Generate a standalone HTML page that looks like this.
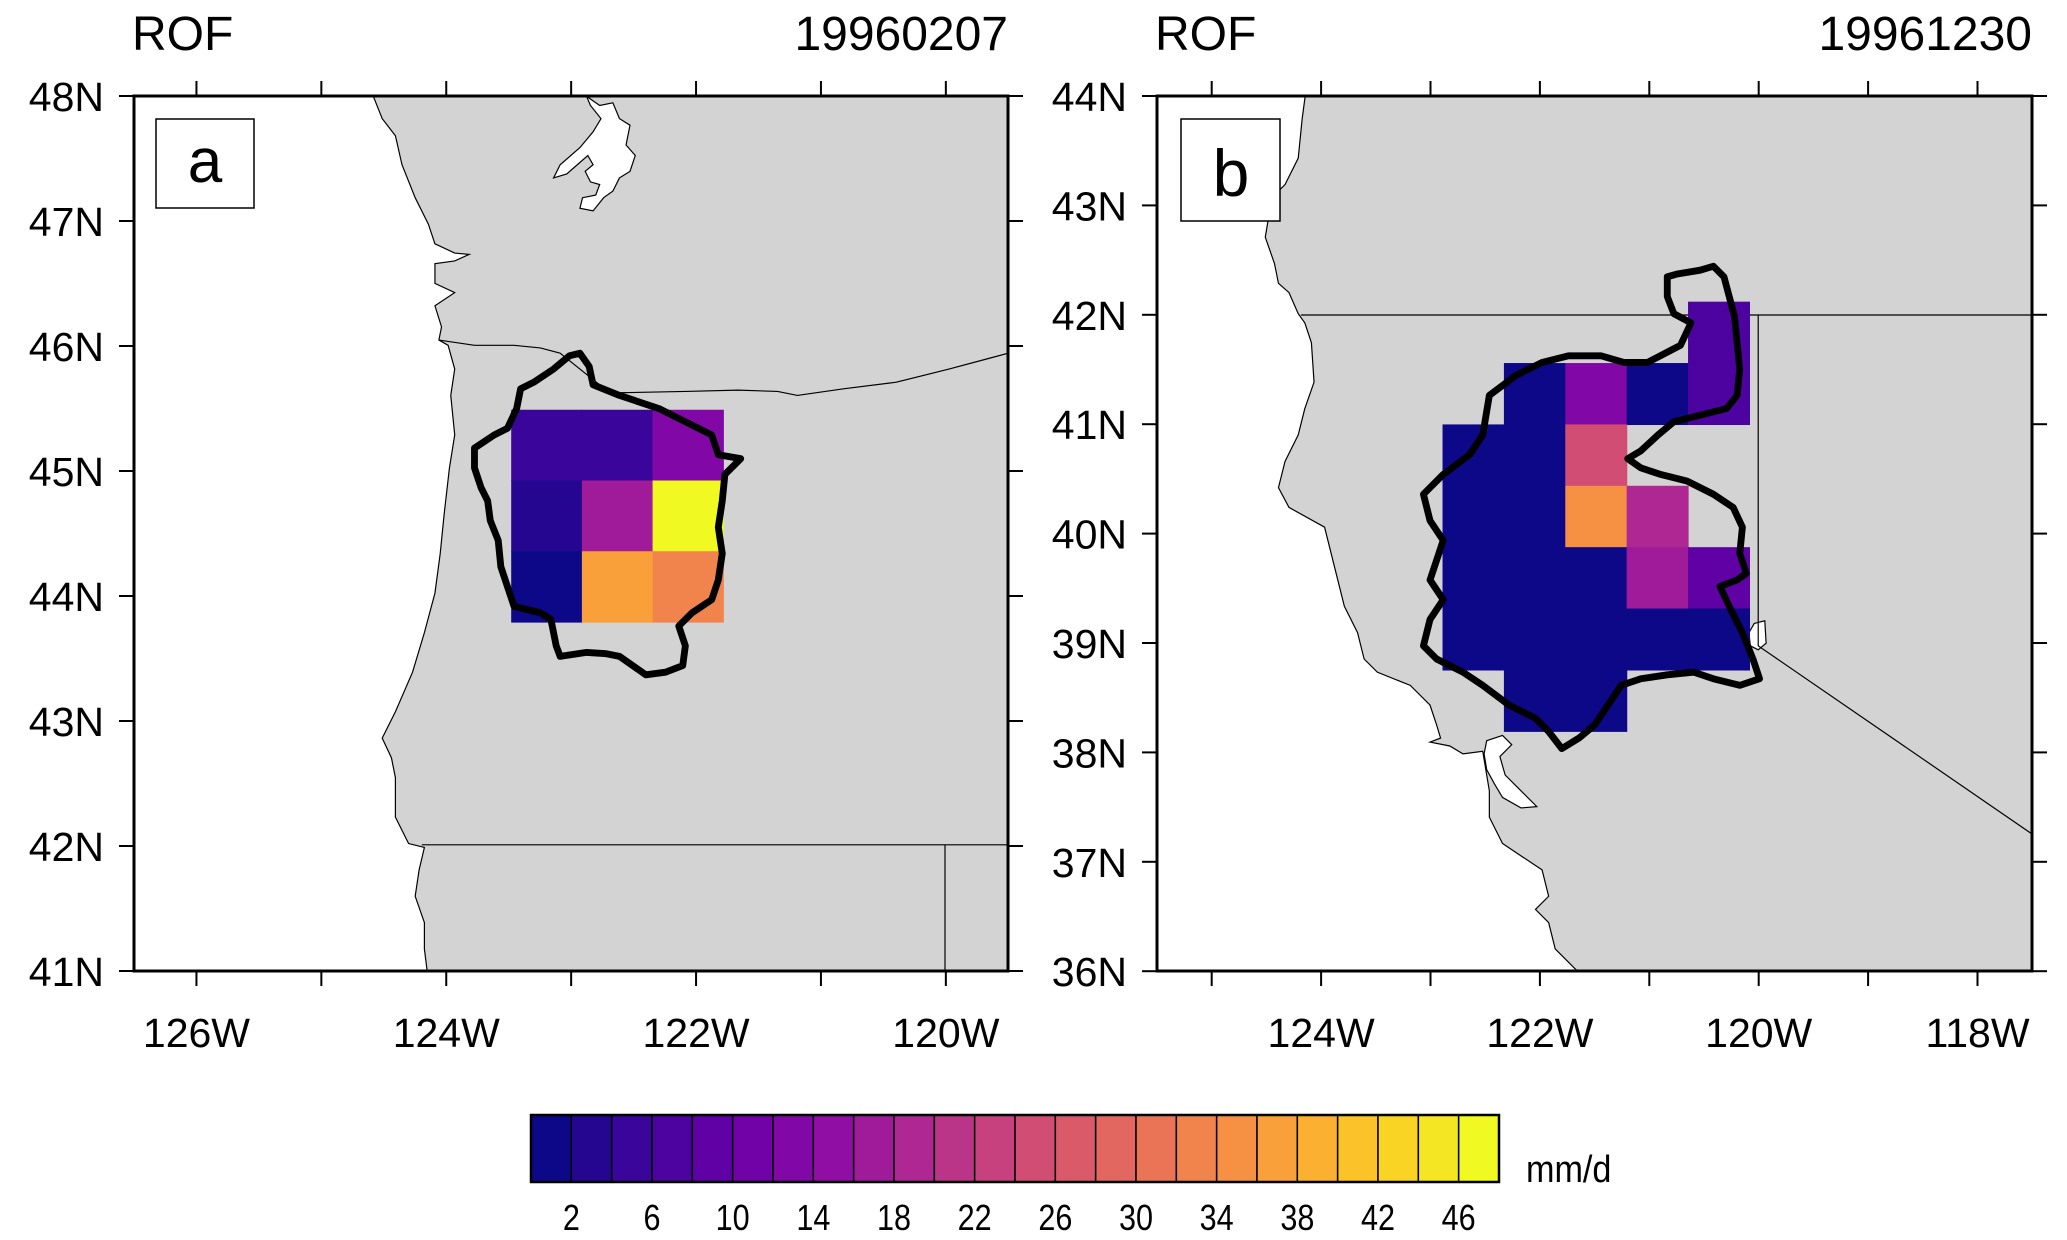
<!DOCTYPE html>
<html><head><meta charset="utf-8">
<style>
html,body{margin:0;padding:0;background:#fff;}
svg{display:block;font-family:"Liberation Sans",Arial,sans-serif;}
</style></head>
<body>
<svg id="fig" width="2067" height="1240" viewBox="0 0 2067 1240" xmlns="http://www.w3.org/2000/svg">
  <defs>
    <clipPath id="clipA"><rect x="134" y="96" width="874" height="875"/></clipPath>
    <clipPath id="clipB"><rect x="1157" y="96" width="875" height="875"/></clipPath>
  </defs>

  <!-- Panel A -->
  <g id="panelA">
    <rect x="134" y="96" width="874" height="875" fill="#fff"/>
    <g clip-path="url(#clipA)">
      <g transform="scale(1.318)">
        <path fill="#d3d3d3" stroke="#000" stroke-width="0.9"
          d="M278,60 L290,90 L300,103 L305,125 L315,150 L325,170 L330,185 L345,192 L356,193 L345,198 L330,200 L330,215 L345,222 L330,232 L335,248 L333,258 L340,262 L345,280 L342,300 L345,330 L341,355 L337,390 L334,420 L330,450 L322,480 L313,510 L300,540 L290,560 L297,575 L300,590 L300,620 L310,640 L322,643 L318,660 L315,680 L322,700 L322,720 L327,760 L780,760 L780,60 Z"/>
        <path fill="#fff" stroke="#000" stroke-width="0.9"
          d="M445,73 L455,80 L465,78 L470,90 L478,95 L475,110 L482,118 L478,130 L470,135 L465,145 L458,150 L450,160 L440,158 L442,150 L452,148 L455,140 L448,138 L444,130 L450,125 L446,118 L438,125 L430,132 L420,135 L425,125 L440,112 L450,100 L456,90 L448,80 Z"/>
        <polyline fill="none" stroke="#000" stroke-width="0.9"
          points="333,258 360,262 390,262 410,264 425,268 440,280 455,292 470,298 520,297 560,296 590,297 605,300 640,295 680,290 720,280 750,272 765,268"/>
        <polyline fill="none" stroke="#000" stroke-width="0.9" points="320,641 765,641"/>
        <polyline fill="none" stroke="#000" stroke-width="0.9" points="717,641 717,740"/>
      </g>
      <g id="cellsA"></g>
      <g transform="scale(1.318)">
        <path fill="none" stroke="#000" stroke-width="5.2" stroke-linejoin="round"
          d="M395,295 L405,290 L420,280 L432,270 L440,268 L447,278 L450,292 L470,300 L500,310 L520,320 L540,330 L545,345 L562,348 L550,360 L548,380 L545,400 L548,420 L545,440 L540,455 L525,465 L515,475 L520,490 L518,505 L505,510 L490,512 L480,505 L470,498 L460,496 L445,495 L425,498 L422,490 L418,470 L410,465 L390,460 L385,445 L380,430 L378,410 L372,395 L370,380 L365,370 L360,355 L360,340 L375,330 L385,325 L392,310 Z"/>
      </g>
    </g>
    <rect x="134" y="96" width="874" height="875" fill="none" stroke="#000" stroke-width="3"/>
    <g id="axesA"></g>
    <rect x="156" y="119" width="98" height="89" fill="#fff" stroke="#000" stroke-width="1.5"/>
    <text x="205" y="182" font-size="62" text-anchor="middle">a</text>
    <text x="132" y="50" font-size="48">ROF</text>
    <text x="1008" y="50" font-size="48" text-anchor="end">19960207</text>
  </g>

  <!-- Panel B -->
  <g id="panelB">
    <rect x="1157" y="96" width="875" height="875" fill="#fff"/>
    <g clip-path="url(#clipB)">
      <g transform="scale(1.318)">
        <path fill="#d3d3d3" stroke="#000" stroke-width="0.9"
          d="M992,60 L988,90 L985,120 L975,140 L965,150 L960,180 L967,200 L970,215 L978,222 L985,238 L990,245 L995,260 L997,290 L990,310 L985,330 L975,350 L970,370 L978,385 L1005,400 L1010,420 L1015,440 L1020,460 L1030,480 L1035,500 L1045,510 L1070,520 L1085,535 L1090,550 L1093,560 L1085,563 L1100,566 L1110,572 L1125,570 L1130,600 L1130,620 L1140,640 L1155,650 L1170,660 L1175,680 L1165,690 L1175,700 L1180,720 L1200,740 L1560,740 L1560,60 Z"/>
        <path fill="#fff" stroke="#000" stroke-width="0.9"
          d="M1128,562 L1140,558 L1147,565 L1138,574 L1142,588 L1152,598 L1166,612 L1154,613 L1140,605 L1134,595 L1128,584 L1126,572 Z"/>
        <path fill="#fff" stroke="#000" stroke-width="0.9"
          d="M1331,473 L1339,471 L1340,488 L1334,493 L1328,490 L1327,480 Z"/>
        <polyline fill="none" stroke="#000" stroke-width="0.9" points="987,239 1560,239"/>
        <polyline fill="none" stroke="#000" stroke-width="0.9" points="1334,239 1334,490 1545,635"/>
      </g>
      <g id="cellsB"></g>
      <g transform="scale(1.318)">
        <path fill="none" stroke="#000" stroke-width="5.2" stroke-linejoin="round"
          d="M1265,210 L1272,208 L1290,205 L1300,202 L1308,210 L1312,225 L1316,240 L1318,260 L1320,280 L1318,300 L1310,310 L1290,315 L1270,320 L1258,330 L1245,342 L1235,348 L1245,355 L1260,360 L1280,365 L1300,375 L1315,385 L1322,400 L1320,420 L1325,435 L1318,440 L1305,445 L1312,460 L1322,480 L1330,500 L1335,515 L1320,520 L1300,515 L1285,510 L1265,512 L1245,515 L1230,520 L1220,535 L1210,550 L1198,560 L1185,568 L1175,555 L1165,545 L1145,535 L1125,520 L1110,510 L1090,500 L1080,490 L1085,470 L1095,455 L1085,440 L1090,425 L1095,410 L1085,395 L1080,375 L1095,360 L1115,345 L1125,330 L1130,300 L1150,285 L1170,275 L1190,270 L1215,270 L1232,275 L1250,275 L1275,262 L1283,245 L1270,238 L1265,225 Z"/>
      </g>
    </g>
    <rect x="1157" y="96" width="875" height="875" fill="none" stroke="#000" stroke-width="3"/>
    <g id="axesB"></g>
    <rect x="1181" y="119" width="99" height="102" fill="#fff" stroke="#000" stroke-width="1.5"/>
    <text x="1231" y="196" font-size="66" text-anchor="middle">b</text>
    <text x="1155" y="50" font-size="48">ROF</text>
    <text x="2032" y="50" font-size="48" text-anchor="end">19961230</text>
  </g>

  <g id="colorbar"></g>
  <text x="1526" y="1182" font-size="38" transform="translate(1526 1182) scale(0.9 1) translate(-1526 -1182)">mm/d</text>
</svg>
<script>
// ---- data ----
const cbLevels = [2,6,10,14,18,22,26,30,34,38,42,46];
const cbMin = 0, cbMax = 48, cbStep = 2;
const plasmaAnchors = ["#0d0887","#41049d","#6a00a8","#8f0da4","#b12a90","#cc4778","#e16462","#f2844b","#fca636","#fcce25","#f0f921"];
const latTicksA = [48,47,46,45,44,43,42,41];
const lonTicksA = [-126,-125,-124,-123,-122,-121,-120];
const lonLabelsA = [-126,-124,-122,-120];
const latTicksB = [44,43,42,41,40,39,38,37,36];
const lonTicksB = [-125,-124,-123,-122,-121,-120,-119,-118];
const lonLabelsB = [-124,-122,-120,-118];
const gridA_lon0 = -123.48, gridA_lat0 = 45.49, gridA_d = 0.566;
const valuesA = [
  [5, 5, 13],
  [3, 17, 47],
  [1, 36, 33]
];
const gridB_lon0 = -122.89, gridB_lat0 = 42.12, gridB_d = 0.561;
const valuesB = [
  [null, null, null, null, 7],
  [null, 1, 13, 1, 7],
  [1, 1, 25, null, null],
  [1, 1, 34, 19, null],
  [1, 1, 1, 17, 9],
  [1, 1, 1, 1, 1],
  [null, 1, 1, null, null]
];

// ---- projections ----
const projA = {x: lon => 134 + (lon + 126.5) * 124.9, y: lat => 96 + (48 - lat) * 125};
const projB = {x: lon => 1157 + (lon + 125.5) * 109.4, y: lat => 96 + (44 - lat) * 109.4};
const NS = "http://www.w3.org/2000/svg";
function mk(tag, attrs, parent){ const e=document.createElementNS(NS,tag); for(const k in attrs) e.setAttribute(k,attrs[k]); parent.appendChild(e); return e; }
function hex2rgb(h){ return [1,3,5].map(i=>parseInt(h.substr(i,2),16)); }
function plasma(t){ t=Math.max(0,Math.min(1,t)); const s=t*(plasmaAnchors.length-1); const i=Math.min(Math.floor(s),plasmaAnchors.length-2); const f=s-i;
  const a=hex2rgb(plasmaAnchors[i]), b=hex2rgb(plasmaAnchors[i+1]); return "rgb("+a.map((v,k)=>Math.round(v+(b[k]-v)*f)).join(",")+")"; }
const nBoxes = (cbMax-cbMin)/cbStep;
const boxColors = []; for(let i=0;i<nBoxes;i++) boxColors.push(plasma(i/(nBoxes-1)));
function colorFor(v){ let i=Math.floor((v-cbMin)/cbStep); i=Math.max(0,Math.min(nBoxes-1,i)); return boxColors[i]; }

function drawCells(gid, proj, vals, lon0, lat0, d, prefix){
  const g=document.getElementById(gid);
  vals.forEach((row,r)=>row.forEach((v,c)=>{
    if(v===null) return;
    const x1=proj.x(lon0+c*d), x2=proj.x(lon0+(c+1)*d), y1=proj.y(lat0-r*d), y2=proj.y(lat0-(r+1)*d);
    const el=mk("rect",{x:x1,y:y1,width:x2-x1+0.6,height:y2-y1+0.6,fill:colorFor(v)},g);
    
    
  }));
}
drawCells("cellsA", projA, valuesA, gridA_lon0, gridA_lat0, gridA_d, "panel-a");
drawCells("cellsB", projB, valuesB, gridB_lon0, gridB_lat0, gridB_d, "panel-b");

function drawAxes(gid, proj, x0, x1, y0, y1, latT, lonT, lonL, prefix){
  const g=document.getElementById(gid);
  const T=15;
  latT.forEach(lat=>{
    const y=proj.y(lat);
    mk("line",{x1:x0-T,y1:y,x2:x0,y2:y,stroke:"#000","stroke-width":2},g);
    mk("line",{x1:x1,y1:y,x2:x1+T,y2:y,stroke:"#000","stroke-width":2},g);
    const t=mk("text",{x:x0-30,y:y+15,"font-size":41,"text-anchor":"end"},g);
    t.textContent=lat+"N";
    
    
  });
  lonT.forEach(lon=>{
    const x=proj.x(lon);
    mk("line",{x1:x,y1:y1,x2:x,y2:y1+T,stroke:"#000","stroke-width":2},g);
    mk("line",{x1:x,y1:y0-T,x2:x,y2:y0,stroke:"#000","stroke-width":2},g);
  });
  lonL.forEach(lon=>{
    const t=mk("text",{x:proj.x(lon),y:y1+76,"font-size":41,"text-anchor":"middle"},g);
    t.textContent=(-lon)+"W";
    
    
  });
}
drawAxes("axesA", projA, 134, 1008, 96, 971, latTicksA, lonTicksA, lonLabelsA, "panel-a");
drawAxes("axesB", projB, 1157, 2032, 96, 971, latTicksB, lonTicksB, lonLabelsB, "panel-b");

// colorbar
(function(){
  const g=document.getElementById("colorbar");
  const cx0=531, cx1=1499, cy0=1115, cy1=1182, w=(cx1-cx0)/nBoxes;
  const xv = v => cx0 + (v-cbMin)/(cbMax-cbMin)*(cx1-cx0);
  for(let i=0;i<nBoxes;i++){
    const r=mk("rect",{x:cx0+i*w,y:cy0,width:w,height:cy1-cy0,fill:boxColors[i],stroke:"#000","stroke-width":1.5},g);
    
    
  }
  mk("rect",{x:cx0,y:cy0,width:cx1-cx0,height:cy1-cy0,fill:"none",stroke:"#000","stroke-width":2.5},g);
  cbLevels.forEach(v=>{
    const x=xv(v);
    const t=mk("text",{x:x,y:1230,"font-size":36,"text-anchor":"middle",transform:"translate("+x+" 0) scale(0.85 1) translate("+(-x)+" 0)"},g);
    t.textContent=v;
    
    
  });
})();
</script>
</body></html>
